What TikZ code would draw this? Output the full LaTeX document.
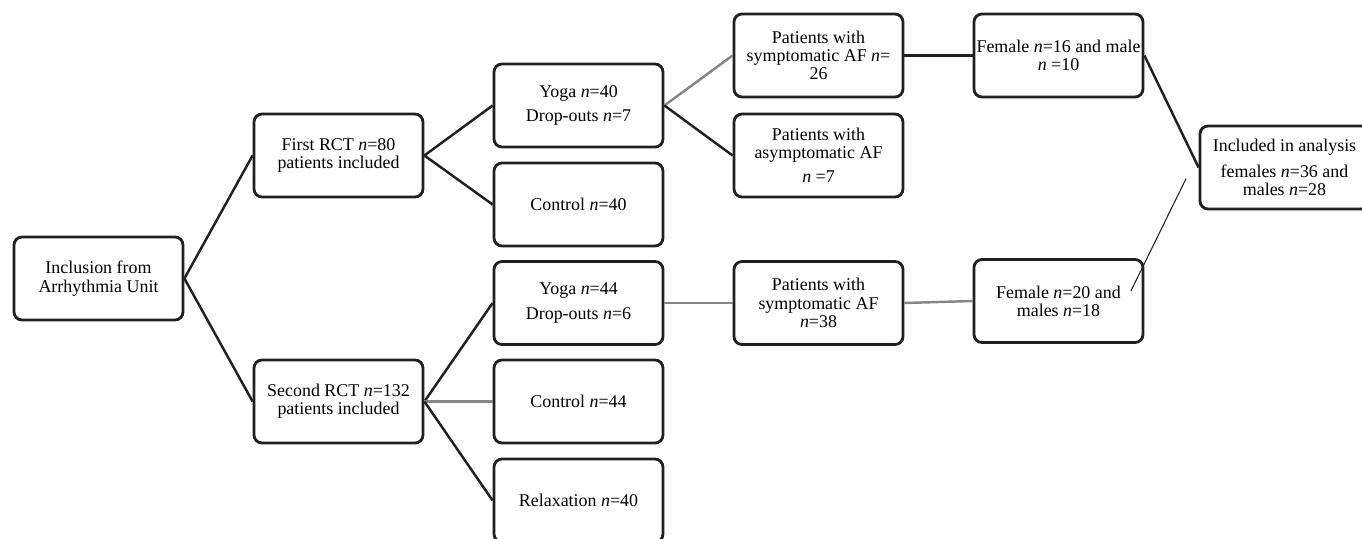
\documentclass[tikz,border=0pt]{standalone}
\usepackage{fontspec}
\setmainfont{Liberation Serif}
\usetikzlibrary{positioning}
\definecolor{boxline}{HTML}{231F20}
\definecolor{linkgrey}{HTML}{858585}

\begin{document}
\begin{tikzpicture}[node distance=4.8cm,
    box/.style={draw=boxline, line width=1.6pt, rounded corners=0.16cm, minimum width=3.38cm, minimum height=1.66cm, inner sep=0pt, align=center, font=\fontsize{10.2pt}{10.4pt}\selectfont},
    link/.style={draw=boxline, line width=1.4pt},
    greylink/.style={draw=linkgrey, line width=1.4pt}]
    \useasboundingbox (0,0) rectangle (27.24,-10.76);
    \node[box] (incl) at (1.97,-5.57) {Inclusion from\\Arrhythmia Unit};
    \node[box, right of=incl, yshift=2.46cm] (rct1) {First RCT \textit{n}=80\\patients included};
    \node[box, right of=incl, yshift=-2.46cm] (rct2) {Second RCT \textit{n}=132\\patients included};
    \node[box, right of=rct1, yshift=1cm] (yoga1) {Yoga \textit{n}=40\\[0.12cm]Drop-outs \textit{n}=7};
    \node[box, right of=rct1, yshift=-0.98cm] (ctrl1) {Control \textit{n}=40};
    \node[box, right of=rct2, yshift=1.97cm] (yoga2) {Yoga \textit{n}=44\\[0.12cm]Drop-outs \textit{n}=6};
    \node[box, right of=rct2] (ctrl2) {Control \textit{n}=44};
    \node[box, right of=rct2, yshift=-1.98cm] (relax) {Relaxation \textit{n}=40};
    \node[box, right of=yoga1, yshift=1cm] (symp1) {Patients with\\symptomatic AF \textit{n}=\\26};
    \node[box, right of=yoga1, yshift=-1cm] (asymp) {Patients with\\asymptomatic AF\\[0.12cm]\textit{n} =7};
    \node[box, right of=yoga2] (symp2) {Patients with\\symptomatic AF\\\textit{n}=38};
    \node[box, right of=symp1] (fem1) {Female \textit{n}=16 and male\\\textit{n} =10};
    \node[box, right of=symp2, yshift=0.04cm] (fem2) {Female \textit{n}=20 and\\males \textit{n}=18};
    \node[box, right of=fem1, xshift=-0.28cm, yshift=-2.24cm] (incl2) {Included in analysis\\[0.16cm]females \textit{n}=36 and\\males \textit{n}=28};
    \coordinate (thintop) at ([xshift=-0.25cm, yshift=-0.22cm]incl2.west);
    \coordinate (thinend) at ([xshift=-0.27cm, yshift=0.2cm]fem2.east);
    % first trial
    \draw[link] (incl.east) -- (rct1.west);
    \draw[link] (rct1.east) -- (yoga1.west);
    \draw[link] (rct1.east) -- (ctrl1.west);
    \draw[greylink] (yoga1.east) -- (symp1.west);
    \draw[link] (yoga1.east) -- (asymp.west);
    \draw[link] (symp1.east) -- (fem1.west);
    \draw[link] (fem1.east) -- (incl2.west);
    % second trial
    \draw[link] (incl.east) -- (rct2.west);
    \draw[link] (rct2.east) -- (yoga2.west);
    \draw[greylink] (rct2.east) -- (ctrl2.west);
    \draw[link] (rct2.east) -- (relax.west);
    \draw[greylink] (yoga2.east) -- (symp2.west);
    \draw[greylink] (symp2.east) -- (fem2.west);
    \draw[boxline, line width=0.6pt] (thinend) -- (thintop);
\end{tikzpicture}
\end{document}
